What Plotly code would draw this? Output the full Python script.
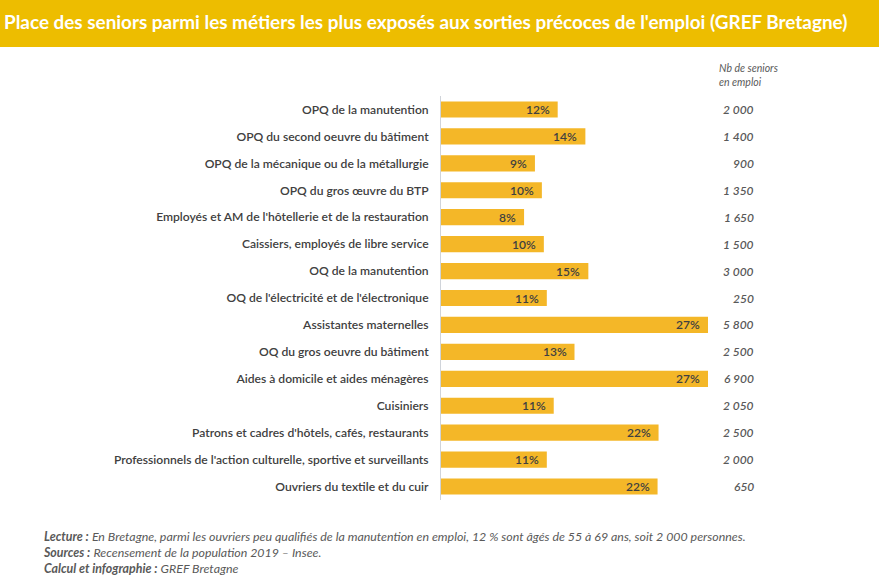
import plotly.graph_objects as go

metiers = [
    "OPQ de la manutention",
    "OPQ du second oeuvre du bâtiment",
    "OPQ de la mécanique ou de la métallurgie",
    "OPQ du gros œuvre du BTP",
    "Employés et AM de l'hôtellerie et de la restauration",
    "Caissiers, employés de libre service",
    "OQ de la manutention",
    "OQ de l'électricité et de l'électronique",
    "Assistantes maternelles",
    "OQ du gros oeuvre du bâtiment",
    "Aides à domicile et aides ménagères",
    "Cuisiniers",
    "Patrons et cadres d'hôtels, cafés, restaurants",
    "Professionnels de l'action culturelle, sportive et surveillants",
    "Ouvriers du textile et du cuir",
]
parts = [11.8, 14.6, 9.5, 10.2, 8.4, 10.4, 14.9, 10.7, 27.0, 13.5, 27.0, 11.4, 22.0, 10.7, 21.9]
parts_labels = ["12%", "14%", "9%", "10%", "8%", "10%", "15%", "11%", "27%", "13%", "27%", "11%", "22%", "11%", "22%"]
nb_seniors = ["2 000", "1 400", "900", "1 350", "1 650", "1 500", "3 000", "250", "5 800", "2 500", "6 900", "2 050", "2 500", "2 000", "650"]

W, H = 879, 587
FONT = "Lato"
GOLD = "#EDBD00"
BAR = "#F4B728"
PLOT_L, PLOT_W, PLOT_T, PLOT_H = 441, 267, 96, 404

fig = go.Figure()
fig.add_trace(go.Bar(
    x=parts, y=metiers, orientation="h",
    marker=dict(color=BAR, line=dict(width=0)),
    hoverinfo="skip",
))

# bar labels, set a little inside the bar end
for m, v, lab in zip(metiers, parts, parts_labels):
    fig.add_annotation(text=lab, x=v, y=m, xanchor="right", yanchor="middle", xshift=-6, showarrow=False,
                       font=dict(family=FONT, size=12, color="#404040", weight=600))

# title band
fig.add_shape(type="rect", xref="paper", yref="paper",
              x0=-PLOT_L / PLOT_W, x1=(W - PLOT_L) / PLOT_W, y0=1 + (PLOT_T - 47) / PLOT_H, y1=1 + PLOT_T / PLOT_H,
              fillcolor=GOLD, line_width=0, layer="below")
fig.add_annotation(text="Place des seniors parmi les métiers les plus exposés aux sorties précoces de l'emploi (GREF Bretagne)",
                   xref="paper", yref="paper", x=(2 - PLOT_L) / PLOT_W, y=1 + (PLOT_T - 21) / PLOT_H,
                   xanchor="left", yanchor="middle",
                   showarrow=False, font=dict(family=FONT, size=18.9, color="white", weight=700))

# right column
fig.add_annotation(text="<i>Nb de seniors<br>en emploi</i>", xref="paper", yref="paper",
                   x=(717 - PLOT_L) / PLOT_W, y=1 + (PLOT_T - 75) / PLOT_H, xanchor="left", yanchor="middle", align="left",
                   showarrow=False, font=dict(family=FONT, size=10.5, color="#595959"))
for m, n in zip(metiers, nb_seniors):
    fig.add_annotation(text="<i>" + n + "</i>", xref="paper", yref="y", x=(756 - PLOT_L) / PLOT_W, y=m,
                       xanchor="right", yanchor="middle", showarrow=False,
                       font=dict(family=FONT, size=12, color="#595959", weight=600))

# notes
notes = ("<b><i>Lecture :</i></b> <i>En Bretagne, parmi les ouvriers peu qualifiés de la manutention en emploi, "
         "12 % sont âgés de 55 à 69 ans, soit 2 000 personnes.</i><br>"
         "<b><i>Sources :</i></b> <i>Recensement de la population 2019 – Insee.</i><br>"
         "<b><i>Calcul et infographie :</i></b> <i>GREF Bretagne</i>")
fig.add_annotation(text=notes, xref="paper", yref="paper", x=(41 - PLOT_L) / PLOT_W, y=-27 / PLOT_H,
                   xanchor="left", yanchor="top", align="left", showarrow=False,
                   font=dict(family=FONT, size=12.4, color="#595959"))

fig.update_layout(
    width=W, height=H,
    margin=dict(l=PLOT_L, r=W - PLOT_L - PLOT_W, t=PLOT_T, b=H - PLOT_T - PLOT_H, pad=0),
    paper_bgcolor="white", plot_bgcolor="white",
    showlegend=False, bargap=0.4,
    font=dict(family=FONT),
)
fig.update_xaxes(range=[0, 27], visible=False, fixedrange=True)
fig.update_yaxes(autorange="reversed", showgrid=False, showline=True, linecolor="#D0D4DA", linewidth=1,
                 ticks="", ticklabelstandoff=9,
                 tickfont=dict(family=FONT, size=12.1, color="#404040", weight=600))

fig.write_html("out.html", config={"displayModeBar": False},
               post_script="document.body.style.margin='0';")
